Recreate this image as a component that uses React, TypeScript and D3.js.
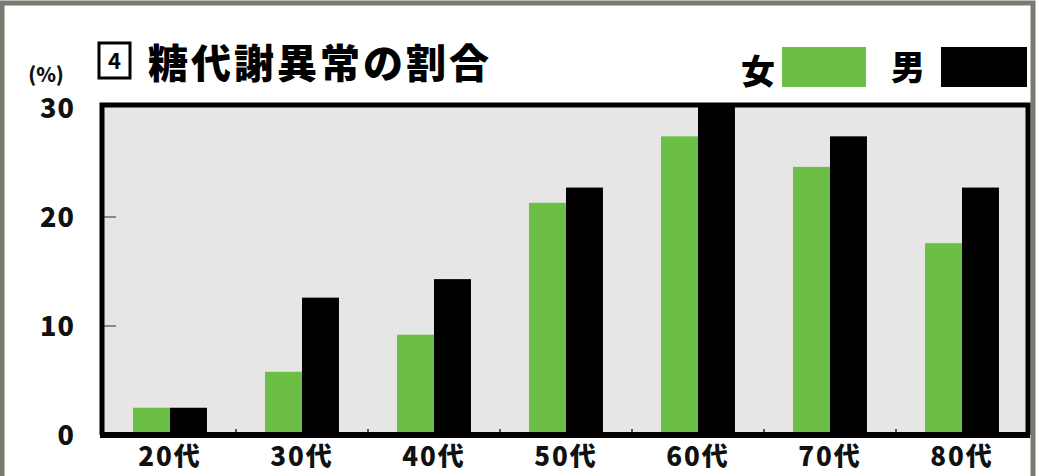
import React from 'react';
import * as d3 from 'd3';

const ages = ['20代', '30代', '40代', '50代', '60代', '70代', '80代'];
const women = [2.5, 5.8, 9.2, 21.3, 27.4, 24.6, 17.6];
const men = [2.5, 12.6, 14.3, 22.7, 30.2, 27.4, 22.7];
const yTicks = [0, 10, 20, 30];
const title = '糖代謝異常の割合';

const W = 1039;
const H = 476;
const GREEN = '#6cbf45';
const FONT = '"Noto Sans CJK JP", "Noto Sans", sans-serif';

const App: React.FC = () => {
  const left = 102;
  const right = 1028;
  const top = 105;
  const bottom = 435;

  const x = d3.scaleBand<string>().domain(ages).range([left + 2, right]).paddingInner(0.44).paddingOuter(0.22);
  const y = d3.scaleLinear().domain([0, 30]).range([bottom, top + 3]);
  const bw = x.bandwidth() / 2;

  return (
    <svg width={W} height={H} style={{ display: 'block', position: 'absolute', left: 0, top: 0 }}>
      <rect x={0} y={0} width={W} height={H} fill="#fff" />
      {/* outer frame */}
      <rect x={2} y={3} width={1031} height={H + 10} fill="none" stroke="#7a7a72" strokeWidth={5} />
      {/* plot background */}
      <rect x={left} y={top} width={right - left} height={bottom - top} fill="#e6e6e6" />
      {/* bars */}
      {ages.map((a, i) => (
        <g key={a}>
          <rect x={x(a)!} y={y(women[i])} width={bw} height={bottom - y(women[i])} fill={GREEN} />
          <rect x={x(a)! + bw} y={Math.max(top, y(men[i]))} width={bw} height={bottom - Math.max(top, y(men[i]))} fill="#000" />
        </g>
      ))}
      {/* small ticks between categories */}
      {ages.slice(1).map(a => (
        <line key={a} x1={x(a)! - x.step() * 0.22} x2={x(a)! - x.step() * 0.22} y1={bottom} y2={bottom - 6} stroke="#555" strokeWidth={2} />
      ))}
      {yTicks.slice(1, 3).map(t => (
        <line key={t} x1={left} x2={left + 14} y1={y(t)} y2={y(t)} stroke="#888" strokeWidth={2} />
      ))}
      {/* frame of plot */}
      <path d={`M${left},${bottom} V${top} H${right} V${bottom}`} fill="none" stroke="#000" strokeWidth={5} />
      <line x1={left - 2} x2={right + 2} y1={bottom} y2={bottom} stroke="#000" strokeWidth={6} />
      {/* y labels */}
      {yTicks.map(t => (
        <text key={t} x={75} y={y(t)} dy="0.36em" textAnchor="end" fontFamily={FONT} fontWeight={900} fontSize={27} letterSpacing={1} fill="#111">{t}</text>
      ))}
      <text x={46} y={82} textAnchor="middle" fontFamily={FONT} fontWeight={900} fontSize={20} fill="#111">(%)</text>
      {/* x labels */}
      {ages.map(a => (
        <text key={a} x={x(a)! + bw} y={466} textAnchor="middle" fontFamily={FONT} fontWeight={900} fontSize={26} letterSpacing={2} fill="#111">{a}</text>
      ))}
      {/* title */}
      <rect x={99} y={43} width={31} height={35} fill="#fff" stroke="#000" strokeWidth={3} />
      <text x={114.5} y={69} textAnchor="middle" fontFamily={FONT} fontWeight={700} fontSize={22} fill="#000">4</text>
      <text x={148} y={78} fontFamily={FONT} fontWeight={900} fontSize={40} letterSpacing={3} fill="#000">{title}</text>
      {/* legend */}
      <text x={758} y={84} textAnchor="middle" fontFamily={FONT} fontWeight={900} fontSize={34} fill="#000">女</text>
      <rect x={782} y={47} width={84} height={40} fill={GREEN} />
      <text x={908} y={80} textAnchor="middle" fontFamily={FONT} fontWeight={900} fontSize={34} fill="#000">男</text>
      <rect x={941} y={47} width={86} height={40} fill="#000" />
    </svg>
  );
};

export default App;
